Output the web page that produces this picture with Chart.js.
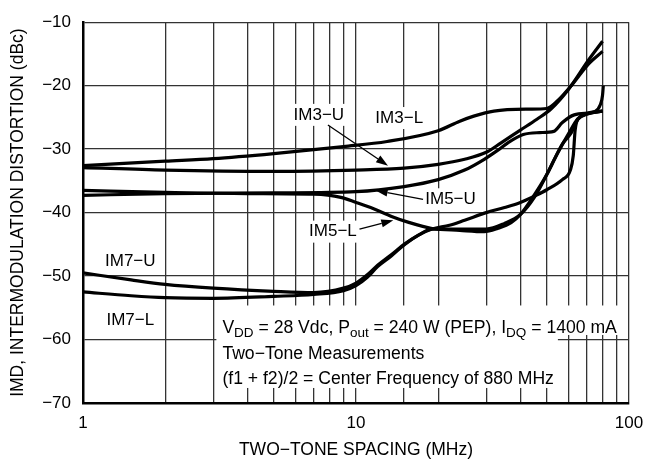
<!DOCTYPE html>
<html>
<head>
<meta charset="utf-8">
<script src="https://cdn.jsdelivr.net/npm/chart.js@4.4.1/dist/chart.umd.min.js"></script>
<style>
  html, body { margin: 0; padding: 0; background: #fff; }
  #wrap { width: 645px; height: 465px; }
</style>
</head>
<body>
<div id="wrap"><canvas id="imdChart"></canvas></div>
<script>
// IMD vs two-tone spacing
const xTickLabels = [1, 10, 100];
const yMin = -70, yMax = -10;

const im3uFreq = [1, 2, 5, 10, 15, 20, 25, 30, 34, 40, 46, 52, 60, 71, 80];
const im3uDbc  = [-32.9, -33.3, -33.5, -33.3, -33, -32.4, -31.6, -30.5, -29, -27, -25.3, -23.6, -20.6, -16, -13];

const im3lFreq = [1, 2, 3, 5, 9, 13, 20, 24, 27, 32, 43, 50, 55, 62, 71, 80];
const im3lDbc  = [-32.6, -31.9, -31.5, -30.7, -29.6, -28.8, -27.1, -25.6, -24.8, -24, -23.7, -23.6, -22.3, -19.8, -16.6, -14.6];

const im5uFreq = [1, 2, 5, 10, 15, 20, 25, 29.5, 33, 36, 41, 47, 53, 57, 63, 72, 80];
const im5uDbc  = [-37.3, -37, -36.9, -36.7, -35.9, -34.8, -33.3, -31.6, -30.2, -29, -27.7, -27.4, -27.2, -25.8, -24.6, -24.3, -24];

const im5lFreq = [1, 2, 4, 7, 8.8, 10, 11.6, 13.5, 15.5, 19, 24, 29.5, 33, 37, 40, 45, 50, 53, 57, 61.5, 65, 70, 80];
const im5lDbc  = [-36.5, -36.8, -37, -37.1, -37.6, -38.4, -39.4, -40.6, -41.5, -42.5, -42.8, -43, -42.5, -41.6, -40.3, -37.2, -34, -31.8, -29.2, -27.4, -25.3, -24.5, -24];

const im7uFreq = [1, 1.5, 2, 3, 5, 7, 9, 10, 11, 12, 13.5, 15, 17, 19, 22, 25, 30, 35, 40, 45, 50, 57, 61, 62.5, 63.5, 66, 75, 78.5, 80, 80.5];
const im7uDbc  = [-49.5, -50.6, -51.3, -51.9, -52.4, -52.6, -51.9, -51.1, -49.8, -48.3, -46.6, -45, -43.5, -42.6, -42, -41.2, -40, -39.2, -38.4, -37.4, -36.4, -34.8, -33.3, -31, -27, -25, -24.1, -23, -21.5, -20];

const im7lFreq = [1, 1.5, 2, 3, 5, 7, 9, 10, 11, 12, 13.5, 15, 17, 19, 24, 30, 35, 40, 45, 50, 55, 60, 65, 70, 80];
const im7lDbc  = [-52.5, -53.1, -53.4, -53.5, -53.2, -52.9, -52.3, -51.5, -50.2, -48.5, -46.8, -45.1, -43.5, -42.6, -42.6, -42.6, -41.7, -40.3, -37.6, -34, -30.5, -27.6, -25.2, -24.4, -24];

const FONT = '"Liberation Sans Narrow", "Liberation Sans", Arial, sans-serif';

function toPoints(xs, ys) {
    return xs.map((x, i) => ({ x: x, y: ys[i] }));
}

function curve(label, xs, ys) {
    return {
        label: label,
        data: toPoints(xs, ys),
        showLine: true,
        borderColor: '#000',
        borderWidth: 3.2,
        pointRadius: 0,
        cubicInterpolationMode: 'monotone',
        fill: false
    };
}

// curve labels with white backing, arrows and the conditions box
const annotations = {
    id: 'annotations',
    afterDraw(chart) {
        const ctx = chart.ctx;
        const sx = chart.scales.x, sy = chart.scales.y;
        const px = v => sx.getPixelForValue(v);
        const py = v => sy.getPixelForValue(v);

        ctx.save();
        ctx.font = '17px ' + FONT;
        ctx.textBaseline = 'middle';
        ctx.textAlign = 'center';
        const labels = [
            ['IM3\u2212U', 7.31, -24.6],
            ['IM3\u2212L', 14.4, -25.1],
            ['IM5\u2212U', 22.2, -37.9],
            ['IM5\u2212L', 8.23, -43.0],
            ['IM7\u2212U', 1.49, -47.7],
            ['IM7\u2212L', 1.49, -57.0]
        ];
        labels.forEach(([t, fx, fy]) => {
            const w = ctx.measureText(t).width;
            ctx.fillStyle = '#fff';
            ctx.fillRect(px(fx) - w / 2 - 3, py(fy) - 11, w + 6, 22);
            ctx.fillStyle = '#000';
            ctx.fillText(t, px(fx), py(fy));
        });

        const arrows = [
            [7.89, -26.2, 13.1, -32.6],
            [17.6, -37.9, 11.8, -36.5],
            [10.3, -42.6, 13.7, -41.2]
        ];
        ctx.strokeStyle = '#000';
        ctx.fillStyle = '#000';
        ctx.lineWidth = 1.3;
        arrows.forEach(([x1, y1, x2, y2]) => {
            const ax = px(x1), ay = py(y1), bx = px(x2), by = py(y2);
            const ang = Math.atan2(by - ay, bx - ax);
            const hl = 12, hw = 4;
            ctx.beginPath();
            ctx.moveTo(ax, ay);
            ctx.lineTo(bx - hl * Math.cos(ang), by - hl * Math.sin(ang));
            ctx.stroke();
            ctx.beginPath();
            ctx.moveTo(bx, by);
            ctx.lineTo(bx - hl * Math.cos(ang) + hw * Math.sin(ang), by - hl * Math.sin(ang) - hw * Math.cos(ang));
            ctx.lineTo(bx - hl * Math.cos(ang) - hw * Math.sin(ang), by - hl * Math.sin(ang) + hw * Math.cos(ang));
            ctx.closePath();
            ctx.fill();
        });

        // conditions box
        const lines = [
            [['V', 0], ['DD', 1], [' = 28 Vdc, P', 0], ['out', 1], [' = 240 W (PEP), I', 0], ['DQ', 1], [' = 1400 mA', 0]],
            [['Two\u2212Tone Measurements', 0]],
            [['(f1 + f2)/2 = Center Frequency of 880 MHz', 0]]
        ];
        const left = px(3.24);
        const top = py(-58.1);
        const step = 25.5;
        const big = '17.6px ', small = '13.5px ';
        ctx.textAlign = 'left';
        ctx.textBaseline = 'alphabetic';
        const widths = lines.map(segs => segs.reduce((s, [t, sub]) => {
            ctx.font = (sub ? small : big) + FONT;
            return s + ctx.measureText(t).width;
        }, 0));
        ctx.fillStyle = '#fff';
        ctx.fillRect(left - 6, top - 22, widths[0] + 10, step + 4);
        ctx.fillRect(left - 6, top - 22 + step, Math.max(widths[1], widths[2]) + 10, step * 2 + 6);
        ctx.fillStyle = '#000';
        lines.forEach((segs, i) => {
            let x = left;
            const base = top + 6 + i * step;
            segs.forEach(([t, sub]) => {
                ctx.font = (sub ? small : big) + FONT;
                ctx.fillText(t, x, base + (sub ? 4 : 0));
                x += ctx.measureText(t).width;
            });
        });
        ctx.restore();
    }
};

new Chart(document.getElementById('imdChart'), {
    type: 'scatter',
    data: {
        datasets: [
            curve('IM3-U', im3uFreq, im3uDbc),
            curve('IM3-L', im3lFreq, im3lDbc),
            curve('IM5-U', im5uFreq, im5uDbc),
            curve('IM5-L', im5lFreq, im5lDbc),
            curve('IM7-U', im7uFreq, im7uDbc),
            curve('IM7-L', im7lFreq, im7lDbc)
        ]
    },
    options: {
        responsive: true,
        maintainAspectRatio: false,
        animation: false,
        layout: { padding: { top: 16, right: 2, left: 0, bottom: 0 } },
        plugins: { legend: { display: false }, tooltip: { enabled: false } },
        scales: {
            x: {
                type: 'logarithmic',
                min: 1,
                max: 100,
                afterFit: s => { s.height = 62; s.paddingRight = 16; },
                border: { color: '#000', width: 2.5 },
                grid: { color: '#333', lineWidth: 1.3, drawTicks: false },
                ticks: {
                    autoSkip: false,
                    maxRotation: 0,
                    padding: 10,
                    color: '#000',
                    font: { family: FONT, size: 17 },
                    callback: v => xTickLabels.includes(v) ? String(v) : ''
                },
                title: {
                    display: true,
                    text: 'TWO\u2212TONE SPACING (MHz)',
                    color: '#000',
                    font: { family: FONT, size: 17.5 },
                    padding: { top: 8 }
                }
            },
            y: {
                min: yMin,
                max: yMax,
                afterFit: s => { s.width = 83; },
                border: { color: '#000', width: 2.5 },
                grid: { color: '#333', lineWidth: 1.3, drawTicks: false },
                ticks: {
                    stepSize: 10,
                    padding: 12,
                    color: '#000',
                    font: { family: FONT, size: 17 },
                    callback: v => (v < 0 ? '\u2212' : '') + Math.abs(v)
                },
                title: {
                    display: true,
                    text: 'IMD, INTERMODULATION DISTORTION (dBc)',
                    color: '#000',
                    font: { family: FONT, size: 17.5 },
                    padding: { top: 8, bottom: 4 }
                }
            }
        }
    },
    plugins: [annotations]
});
</script>
</body>
</html>
